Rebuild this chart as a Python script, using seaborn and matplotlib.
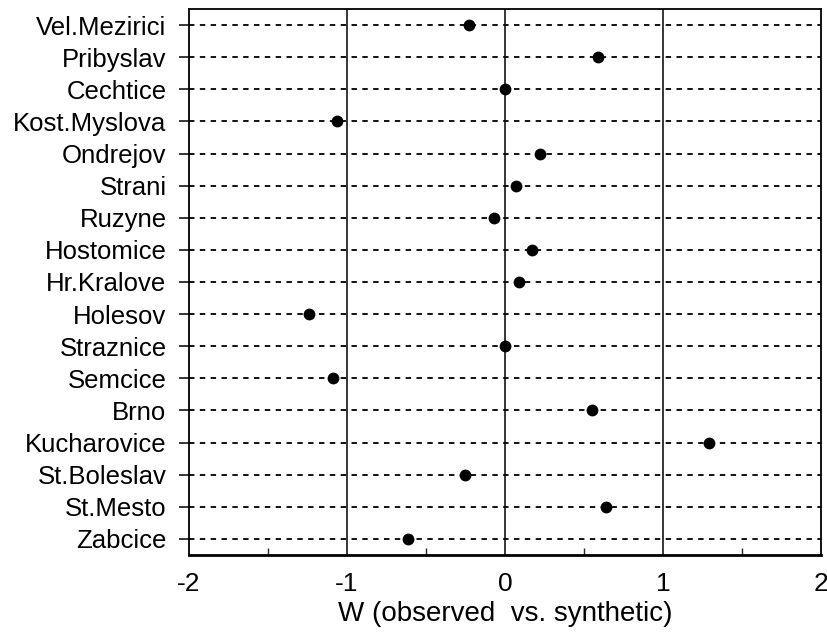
import pandas as pd
import seaborn as sns
import matplotlib
matplotlib.use("Agg")
import matplotlib.pyplot as plt
from matplotlib.ticker import MultipleLocator

# --- Data ---
stations = ["Vel.Mezirici", "Pribyslav", "Cechtice", "Kost.Myslova", "Ondrejov",
            "Strani", "Ruzyne", "Hostomice", "Hr.Kralove", "Holesov", "Straznice",
            "Semcice", "Brno", "Kucharovice", "St.Boleslav", "St.Mesto", "Zabcice"]
w_values = [-0.23, 0.59, 0.0, -1.06, 0.22, 0.07, -0.07, 0.17, 0.09, -1.24, 0.0,
            -1.09, 0.55, 1.29, -0.25, 0.64, -0.61]
x_ticks = [-2, -1, 0, 1, 2]

df = pd.DataFrame({"station": stations, "W": w_values})

sns.set_style("white")
plt.rcParams["font.family"] = ["Liberation Sans", "DejaVu Sans"]

fig = plt.figure(figsize=(8.28, 6.42), dpi=100)
ax = fig.add_axes([0.228, 0.1355, 0.7635, 0.8505])

# dashed line for every station row
for i in range(len(stations)):
    ax.axhline(i, color="black", lw=1.3, ls=(0, (3, 3)), zorder=1)

# solid vertical lines at the major ticks
for xv in x_ticks[1:-1]:
    ax.axvline(xv, color="black", lw=1.1, zorder=1)

sns.stripplot(data=df, x="W", y="station", order=stations, jitter=False,
              color="black", size=8.5, linewidth=0, ax=ax, zorder=3)

ax.set_xlim(-2, 2)
ax.set_ylim(len(stations) - 0.5, -0.5)
ax.set_xticks(x_ticks)
ax.set_xticklabels([str(v) for v in x_ticks])
ax.xaxis.set_minor_locator(MultipleLocator(0.5))
ax.tick_params(axis="x", which="major", direction="in", length=7, width=1.1,
               labelsize=19, pad=12, colors="black")
ax.tick_params(axis="x", which="minor", direction="in", length=5, width=1.0,
               bottom=True)
ax.tick_params(axis="y", direction="out", length=7, width=1.1, labelsize=18.5,
               pad=9, left=True, colors="black")

ax.set_xlabel("W (observed  vs. synthetic)", fontsize=20, labelpad=4, color="black")
ax.set_ylabel("")

for side, spine in ax.spines.items():
    spine.set_color("black")
    spine.set_linewidth(1.3)
ax.spines["bottom"].set_linewidth(2.0)

fig.savefig("out.png", dpi=100, facecolor="white")
